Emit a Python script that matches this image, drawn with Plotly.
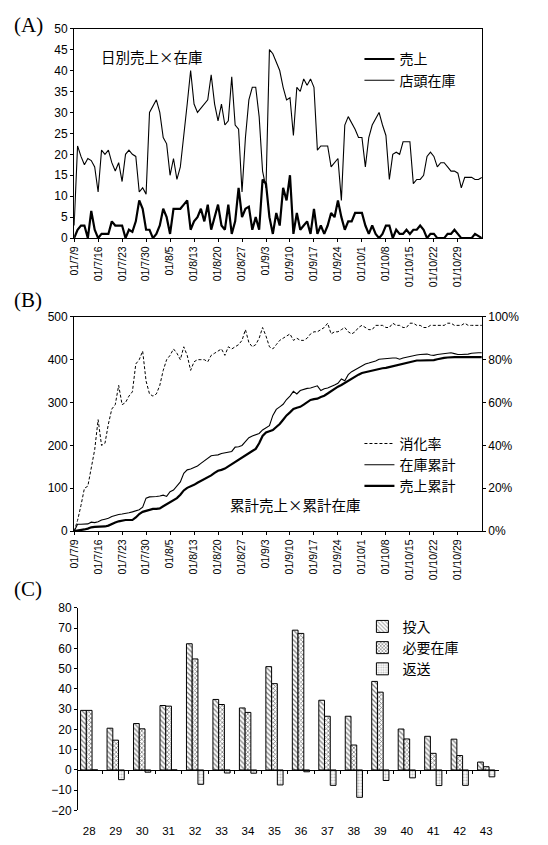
import plotly.graph_objects as go

# ---------------- data ----------------
date_ticks = ["01/7/9", "01/7/16", "01/7/23", "01/7/30", "01/8/5", "01/8/13", "01/8/20",
              "01/8/27", "01/9/3", "01/9/10", "01/9/17", "01/9/24", "01/10/1", "01/10/8",
              "01/10/15", "01/10/22", "01/10/29"]
tick_pos = [0, 7, 14, 21, 28, 35, 42, 49, 56, 63, 70, 77, 84, 91, 98, 105, 112]
day_index = list(range(120))

# (A) daily sales and shop stock
daily_sales = [0, 2, 3, 3, 0, 6.5, 2, 0, 1, 1,
               1, 4, 3, 3, 3, 0, 2, 1.5, 4, 9,
               7, 2, 2, 0, 1, 3, 7, 5, 1, 7,
               7, 7, 8, 9, 2, 4, 5, 7, 4, 8,
               2, 5, 8, 3, 2, 8, 1, 4, 12, 5,
               7, 7.5, 2, 5, 2, 14, 13, 5, 1, 6,
               3, 12, 9, 15, 1, 6, 2, 3, 4, 1,
               7, 1, 3, 1, 3, 6, 5, 9, 5, 2,
               4, 4, 6, 6, 6, 3, 1, 3, 1, 0,
               1, 3, 3, 0, 2, 1, 1, 2, 1, 2,
               2, 3, 2, 0, 1, 1, 0, 0, 0, 1,
               1, 2, 1, 0, 0, 0, 0, 1, 0.5, 0]
shop_stock = [3, 22, 19.5, 17.5, 19, 18.5, 17, 11, 21, 20,
              21, 18, 16, 18, 13.5, 20, 21, 20, 19.5, 11,
              12, 10.5, 30, 31.5, 33, 30, 24, 22.5, 15, 19,
              14, 17, 24, 32, 40, 32, 30, 31, 32, 33,
              39, 32, 28, 32, 27, 28, 38.5, 27, 26, 11,
              24, 33, 36, 36, 29, 16, 12, 45, 44, 42,
              40, 36, 33, 33.5, 24.5, 36, 35, 38, 36.5, 38,
              36, 21, 22, 22, 22, 17, 18, 19, 9, 27,
              29, 27.5, 26, 24, 24, 17, 24, 27, 28.5, 30,
              27, 24.5, 14, 20, 20.5, 20, 23, 23, 23, 13,
              14, 14, 15, 19.5, 20.5, 19.5, 17, 18, 18, 17,
              16, 16, 15.5, 12, 14.5, 14.5, 14.5, 14, 14, 14.5]

# (B) cumulative sales, cumulative stock, sell-through rate (%)
cum_sales = [0, 1, 2, 4, 6, 9, 10, 10, 11, 11,
             13, 17, 20, 23, 25, 26, 26, 26, 32, 40,
             45, 47, 50, 52, 52, 53, 58, 63, 67, 73,
             77, 85, 95, 101, 104, 108, 113, 117, 121, 125,
             130, 136, 141, 143, 146, 151, 156, 160, 166, 172,
             176, 181, 187, 192, 205, 222, 230, 233, 236, 243,
             250, 260, 270, 277, 285, 288, 290, 295, 300, 306,
             308, 309, 313, 316, 321, 327, 333, 337, 341, 346,
             350, 355, 360, 365, 369, 371, 373, 375, 377, 378,
             380, 381, 383, 385, 387, 389, 390, 392, 394, 396,
             398, 398, 398, 398, 398, 399, 401, 403, 404, 405,
             406, 406, 406, 406, 406, 406, 406, 406, 406, 406]
cum_stock = [0, 16, 16, 16, 17, 21, 20, 22, 26, 28,
             30, 34, 37, 39, 40, 41, 43, 45, 47, 50,
             56, 77, 80, 80, 81, 82, 84, 81, 92, 96,
             105, 115, 135, 143, 145, 148, 152, 158, 164, 170,
             176, 177, 178, 181, 183, 184, 186, 196, 197, 200,
             210, 218, 222, 225, 228, 236, 242, 246, 270, 284,
             290, 296, 307, 315, 326, 320, 328, 331, 333, 334,
             337, 339, 328, 332, 334, 337, 341, 345, 355, 351,
             365, 372, 377, 382, 386, 390, 392, 394, 397, 401,
             402, 403, 404, 404, 404, 401, 404, 406, 408, 410,
             411, 412, 413, 413, 411, 410, 412, 413, 414, 416,
             416, 414, 412, 412, 412, 413, 415, 416, 416, 416]
sell_rate = [0, 5, 12, 20, 21, 30, 38, 52, 40, 41,
             50, 57, 59, 68, 59, 60, 63, 65, 78, 80,
             84, 70, 64, 63, 64, 68, 75, 80, 82, 85,
             83, 80, 86, 82, 75, 79, 80, 80, 80, 79,
             82, 83, 84, 85, 82, 86, 85, 86, 87, 89,
             94, 88, 86, 87, 90, 95, 91, 86, 85, 87,
             89, 90, 91, 92, 89, 90, 89, 89, 90, 92,
             93, 93, 94, 95, 97, 92, 93, 93, 94, 95,
             93, 92, 93, 95, 96, 95, 94, 94, 96, 96,
             96, 95, 95, 97, 96, 96, 95, 95, 97, 97,
             96, 96, 95, 95, 96, 96, 96, 96, 96, 97,
             97, 96, 96, 96, 97, 96, 96, 96, 96, 96]
pct_vals = [0, 20, 40, 60, 80, 100]
pct_text = ["0%", "20%", "40%", "60%", "80%", "100%"]

# (C) weekly bars
weeks = ["28", "29", "30", "31", "32", "33", "34", "35", "36", "37", "38", "39", "40", "41", "42", "43"]
input_qty = [29.4, 20.6, 22.9, 31.8, 62.3, 34.8, 30.6, 51, 69, 34.4, 26.5, 43.7, 20.2, 16.6, 15.2, 3.9]
needed_stock = [29.4, 14.7, 20.3, 31.5, 54.8, 32.3, 28.4, 42.6, 67.4, 26.5, 12.3, 38.4, 15.3, 8.2, 7.1, 1.6]
returned = [0, -4.8, -1.1, 0, -7.1, -1.5, -1.6, -7.4, -0.9, -7.6, -13.5, -5.2, -3.9, -7.7, -7.6, -3.4]
week_bounds = [0.5, 1.5, 2.5, 3.5, 4.5, 5.5, 6.5, 7.5, 8.5, 9.5, 10.5, 11.5, 12.5, 13.5, 14.5]

# ---------------- figure ----------------
JP = "Noto Sans CJK JP"
NUM = "Liberation Sans"
fig = go.Figure()

# A
fig.add_trace(go.Scatter(x=day_index, y=daily_sales, mode="lines", name="売上",
                         line=dict(color="black", width=2.2), xaxis="x", yaxis="y", legend="legend"))
fig.add_trace(go.Scatter(x=day_index, y=shop_stock, mode="lines", name="店頭在庫",
                         line=dict(color="black", width=1.1), xaxis="x", yaxis="y", legend="legend"))
# B
fig.add_trace(go.Scatter(x=day_index, y=sell_rate, mode="lines", name="消化率",
                         line=dict(color="black", width=1, dash="3px,2px"), xaxis="x2", yaxis="y3",
                         legend="legend2"))
fig.add_trace(go.Scatter(x=day_index, y=cum_stock, mode="lines", name="在庫累計",
                         line=dict(color="black", width=1.1), xaxis="x2", yaxis="y2", legend="legend2"))
fig.add_trace(go.Scatter(x=day_index, y=cum_sales, mode="lines", name="売上累計",
                         line=dict(color="black", width=2.2), xaxis="x2", yaxis="y2", legend="legend2"))
# C
fig.add_trace(go.Bar(x=weeks, y=input_qty, name="投入", xaxis="x3", yaxis="y4",
                     marker=dict(color="white", line=dict(color="black", width=1),
                                 pattern=dict(shape="\\", fgcolor="black", bgcolor="white", size=3.5, solidity=0.35)),
                     legend="legend3"))
fig.add_trace(go.Bar(x=weeks, y=needed_stock, name="必要在庫", xaxis="x3", yaxis="y4",
                     marker=dict(color="white", line=dict(color="black", width=1),
                                 pattern=dict(shape="x", fgcolor="black", bgcolor="white", size=3, solidity=0.45)),
                     legend="legend3"))
fig.add_trace(go.Bar(x=weeks, y=returned, name="返送", xaxis="x3", yaxis="y4",
                     marker=dict(color="white", line=dict(color="black", width=1),
                                 pattern=dict(shape=".", fgcolor="#808080", bgcolor="white", size=3, solidity=0.4)),
                     legend="legend3"))
# invisible helper so that the zero-line axis with week separators is drawn
fig.add_trace(go.Scatter(x=[week_bounds[0]], y=[0], mode="markers", marker=dict(opacity=0),
                         xaxis="x4", yaxis="y4", showlegend=False, hoverinfo="skip"))

axis_common = dict(showline=True, linecolor="black", linewidth=1, showgrid=False, zeroline=False,
                   ticks="outside", ticklen=3, tickcolor="black", tickfont=dict(family=NUM, size=12, color="black"))
date_font = dict(family=NUM, size=10.5, color="black")
xdom = [68 / 548, 481 / 548]
c_dom = [1 - 817 / 845, 1 - 611 / 845]
c_zero = c_dom[0] + (c_dom[1] - c_dom[0]) * 20 / 100

fig.update_layout(
    width=548, height=845, margin=dict(l=0, r=0, t=0, b=0),
    paper_bgcolor="white", plot_bgcolor="white",
    barmode="group", bargap=0.35, bargroupgap=0,
    xaxis=dict(domain=xdom, anchor="y", range=[0, 119], tickvals=tick_pos, ticktext=date_ticks,
               tickangle=-90, mirror=True, **{**axis_common, "tickfont": date_font}),
    yaxis=dict(domain=[1 - 235 / 845, 1 - 22 / 845], anchor="x", range=[0, 50], dtick=5, mirror=True, **axis_common),
    xaxis2=dict(domain=xdom, anchor="y2", range=[0, 119], tickvals=tick_pos, ticktext=date_ticks,
                tickangle=-90, mirror=True, **{**axis_common, "tickfont": date_font}),
    yaxis2=dict(domain=[1 - 533 / 845, 1 - 315 / 845], anchor="x2", range=[0, 500], dtick=100, **axis_common),
    yaxis3=dict(overlaying="y2", side="right", anchor="x2", range=[0, 100], tickmode="array",
                tickvals=pct_vals, ticktext=pct_text, **axis_common),
    xaxis3=dict(domain=[72 / 548, 498 / 548], anchor="y4", range=[-0.42, 15.47], type="category",
                showline=False, showgrid=False, zeroline=False, ticks="", ticklabelstandoff=12,
                tickfont=dict(family=NUM, size=11.5, color="black")),
    xaxis4=dict(overlaying="x3", anchor="free", position=c_zero, range=[-0.42, 15.47],
                showline=True, linecolor="black", linewidth=1, showgrid=False, zeroline=False,
                tickmode="array", tickvals=week_bounds, ticks="outside", ticklen=3, tickcolor="black",
                showticklabels=False),
    yaxis4=dict(domain=c_dom, anchor="x3", range=[-20, 80], dtick=10, **axis_common),
    legend=dict(x=357 / 548, y=1 - 37 / 845, xanchor="left", yanchor="top", bgcolor="rgba(0,0,0,0)",
                font=dict(family=JP, size=14, color="black"), tracegroupgap=0),
    legend2=dict(x=357 / 548, y=1 - 428 / 845, xanchor="left", yanchor="top", bgcolor="rgba(0,0,0,0)",
                 font=dict(family=JP, size=14, color="black"), tracegroupgap=0),
    legend3=dict(x=360 / 548, y=1 - 614 / 845, xanchor="left", yanchor="top", bgcolor="rgba(0,0,0,0)",
                 font=dict(family=JP, size=14, color="black"), tracegroupgap=0),
    annotations=[
        dict(text="日別売上×在庫", x=147 / 548, y=1 - 50 / 845, xref="paper", yref="paper", showarrow=False,
             xanchor="center", yanchor="middle", font=dict(family=JP, size=14.5, color="black")),
        dict(text="累計売上×累計在庫", x=292 / 548, y=1 - 506 / 845, xref="paper", yref="paper", showarrow=False,
             xanchor="center", yanchor="middle", font=dict(family=JP, size=14.5, color="black")),
        dict(text="(A)", x=5 / 548, y=1 - 18 / 845, xref="paper", yref="paper", showarrow=False,
             xanchor="left", yanchor="middle", font=dict(family="Liberation Serif", size=21, color="black")),
        dict(text="(B)", x=5 / 548, y=1 - 298 / 845, xref="paper", yref="paper", showarrow=False,
             xanchor="left", yanchor="middle", font=dict(family="Liberation Serif", size=21, color="black")),
        dict(text="(C)", x=5 / 548, y=1 - 592 / 845, xref="paper", yref="paper", showarrow=False,
             xanchor="left", yanchor="middle", font=dict(family="Liberation Serif", size=21, color="black")),
    ],
)

fig.write_html("out.html", config={"displayModeBar": False},
               post_script="document.body.style.margin='0';document.body.style.padding='0';")
